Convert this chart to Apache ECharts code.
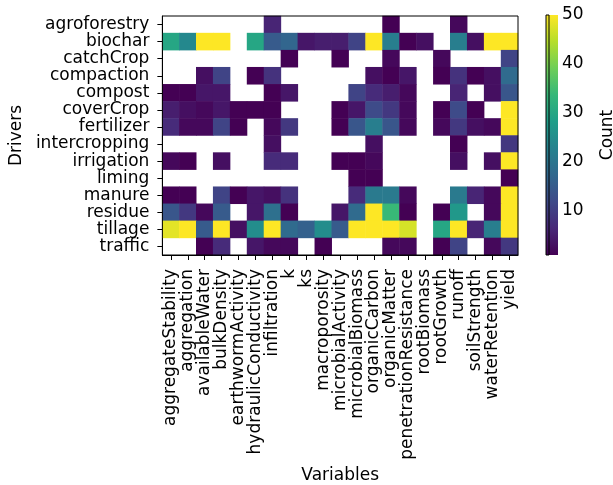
<!DOCTYPE html>
<html>
<head>
<meta charset="utf-8">
<script src="https://cdn.jsdelivr.net/npm/echarts@6/dist/echarts.min.js"></script>
<style>
  html, body { margin: 0; padding: 0; background: #fff; }
  #chart { width: 613px; height: 485px; }
</style>
</head>
<body>
<div id="chart"></div>
<script>
// Management drivers (rows, top to bottom) and soil/crop variables (columns)
const drivers = ['agroforestry', 'biochar', 'catchCrop', 'compaction', 'compost', 'coverCrop',
  'fertilizer', 'intercropping', 'irrigation', 'liming', 'manure', 'residue', 'tillage', 'traffic'];

const variables = ['aggregateStability', 'aggregation', 'availableWater', 'bulkDensity',
  'earthwormActivity', 'hydraulicConductivity', 'infiltration', 'k', 'ks', 'macroporosity',
  'microbialActivity', 'microbialBiomass', 'organicCarbon', 'organicMatter',
  'penetrationResistance', 'rootBiomass', 'rootGrowth', 'runoff', 'soilStrength',
  'waterRetention', 'yield'];

// Study counts per driver, one entry per variable (null = no studies)
const _ = null;
const agroforestry  = [_, _, _, _, _, _, 6, _, _, _, _, _, _, 1, _, _, _, 2, _, _, _];
const biochar       = [30, 24, 50, 50, _, 30, 15, 17, 4, 5, 5, 11, 50, 22, 1, 3, _, 22, 3, 50, 50];
const catchCrop     = [_, _, _, _, _, _, _, 1, _, _, 1, _, _, 2, _, _, 2, _, _, _, 11];
const compaction    = [_, _, 3, 11, _, 1, 8, _, _, _, _, _, 3, 1, 4, _, 1, 8, 1, 3, 18];
const compost       = [1, 1, 4, 4, _, _, 1, 4, _, _, _, 11, 7, 5, 2, _, _, 6, _, 3, 14];
const coverCrop     = [5, 3, 2, 4, 1, 1, 1, _, _, _, 1, 4, 12, 9, 2, _, 1, 12, 1, _, 50];
const fertilizer    = [7, 2, 2, 11, 1, _, 2, 9, _, _, 1, 14, 22, 14, 2, _, 2, 9, 3, 2, 50];
const intercropping = [_, _, _, _, _, _, 3, _, _, _, _, _, 3, _, _, _, _, 1, _, _, 9];
const irrigation    = [2, 1, _, 3, _, _, 7, 7, _, _, 1, 1, 2, _, _, _, _, 3, _, 3, 50];
const liming        = [_, _, _, _, _, _, _, _, _, _, _, 1, 1, _, _, _, _, _, _, _, 1];
const manure        = [1, 1, _, 11, 1, 4, 3, 8, _, _, _, 7, 21, 21, 2, _, _, 21, 6, 2, 50];
const residue       = [14, 9, 2, 15, _, 4, 19, 1, _, _, 4, 18, 50, 34, 1, _, 1, 27, _, 2, 50];
const tillage       = [48, 50, 15, 50, 3, 25, 50, 18, 16, 25, 15, 50, 50, 50, 47, _, 30, 50, 6, 22, 50];
const traffic       = [_, _, 1, 7, _, 4, 2, 2, _, 1, _, _, _, 2, 2, _, 1, 11, _, 2, 9];

const countRows = [agroforestry, biochar, catchCrop, compaction, compost, coverCrop, fertilizer,
  intercropping, irrigation, liming, manure, residue, tillage, traffic];

// Colour scale range and colourbar ticks
const countMin = 1;
const countMax = 50;
const countTicks = [10, 20, 30, 40, 50];

const viridis = ['#440154', '#482878', '#3e4a89', '#31688e', '#26828e',
  '#1f9e89', '#35b779', '#6ece58', '#b5de2b', '#fde725'];

const cells = [];
countRows.forEach((row, r) => {
  row.forEach((v, c) => {
    if (v !== null) cells.push([c, r, v]);
  });
});

const font = 'DejaVu Sans';
const txt = { fontFamily: font, fontSize: 17, color: '#000' };

// Colourbar box (same place as the second grid)
const cbar = { left: 546, top: 15, width: 12, height: 240 };

// Vertical gradient for the colourbar: top = max, bottom = min
const gradStops = viridis.map((c, i) => ({ offset: 1 - i / (viridis.length - 1), color: c }))
  .reverse();

const chart = echarts.init(document.getElementById('chart'), null, { renderer: 'canvas' });
chart.setOption({
  backgroundColor: '#fff',
  animation: false,
  grid: [
    { left: 159, top: 16, width: 359, height: 239, show: true, borderColor: '#000', borderWidth: 1, backgroundColor: 'transparent', z: 5 },
    { left: cbar.left, top: cbar.top, width: cbar.width, height: cbar.height, show: true, borderColor: '#000', borderWidth: 1, backgroundColor: 'transparent', z: 10 }
  ],
  graphic: [{
    type: 'rect', left: cbar.left, top: cbar.top, z: 1,
    shape: { width: cbar.width, height: cbar.height },
    style: { fill: new echarts.graphic.LinearGradient(0, 0, 0, 1, gradStops) }
  }],
  xAxis: [
    {
      gridIndex: 0, type: 'category', data: variables, position: 'bottom',
      axisLine: { show: true, lineStyle: { color: '#000', width: 1 } },
      axisTick: { show: true, alignWithLabel: true, length: 5, lineStyle: { color: '#000' } },
      axisLabel: { ...txt, rotate: 90, interval: 0, margin: 14 },
      splitLine: { show: false },
      name: 'Variables', nameLocation: 'middle', nameGap: 212,
      nameTextStyle: { ...txt }
    },
    { gridIndex: 1, type: 'value', show: false, min: 0, max: 1 }
  ],
  yAxis: [
    {
      gridIndex: 0, type: 'category', data: drivers, inverse: true,
      axisLine: { show: true, lineStyle: { color: '#000', width: 1 } },
      axisTick: { show: true, alignWithLabel: true, length: 5, lineStyle: { color: '#000' } },
      axisLabel: { ...txt, interval: 0, margin: 13 },
      splitLine: { show: false },
      name: 'Drivers', nameLocation: 'middle', nameGap: 136, nameRotate: 90,
      nameTextStyle: { ...txt }
    },
    {
      gridIndex: 1, type: 'value', position: 'right', min: countMin, max: countMax,
      axisLine: { show: false },
      axisTick: { show: true, length: 5, customValues: countTicks, lineStyle: { color: '#000' } },
      axisLabel: { ...txt, margin: 13, customValues: countTicks },
      splitLine: { show: false },
      name: 'Count', nameLocation: 'middle', nameGap: 50, nameRotate: 90,
      nameTextStyle: { ...txt }
    }
  ],
  visualMap: {
    type: 'continuous', show: false, seriesIndex: 0, min: countMin, max: countMax,
    inRange: { color: viridis }
  },
  series: [{
    type: 'heatmap', xAxisIndex: 0, yAxisIndex: 0, data: cells,
    itemStyle: { borderWidth: 0 },
    emphasis: { disabled: true }
  }]
});
</script>
</body>
</html>
